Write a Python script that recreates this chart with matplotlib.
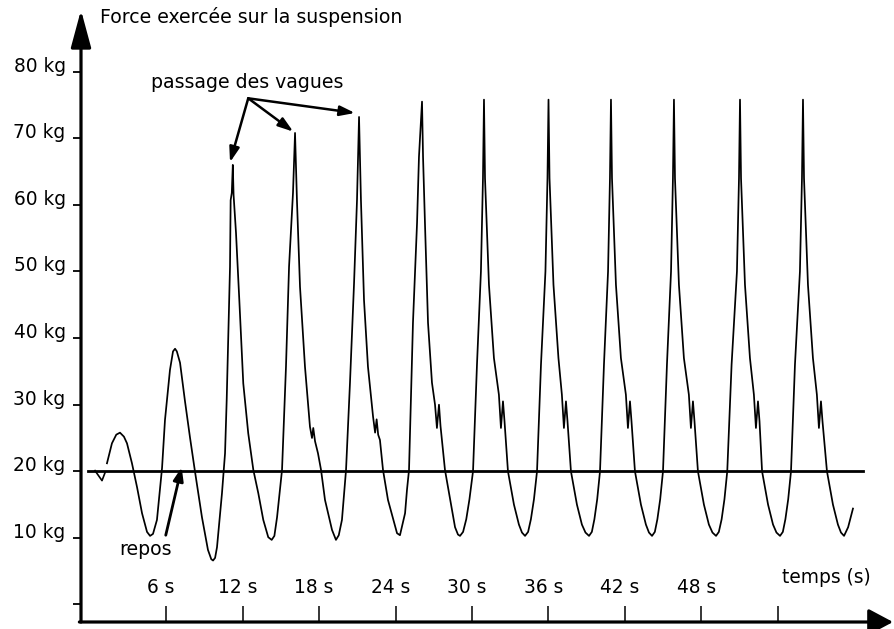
"""Force on the suspension vs time: two swells, then ten waves passing."""
import matplotlib
matplotlib.use("Agg")
import matplotlib.pyplot as plt

plt.rcParams["font.family"] = ["DejaVu Sans"]

# trace, (time s, force kg)
wiggle = [(0.43, 20.1), (0.98, 18.6), (1.22, 19.8)]
swells = [(1.37, 21.2), (1.76, 24.2), (2.10, 25.5), (2.39, 25.8), (2.70, 25.2),
          (2.94, 24.2), (3.33, 21.2), (3.73, 17.6), (4.12, 13.7), (4.51, 10.9),
          (4.75, 10.3), (4.98, 10.6), (5.29, 12.7), (5.69, 20.5), (5.92, 27.7),
          (6.31, 35.2), (6.55, 38.0), (6.71, 38.4), (6.85, 38.0), (7.10, 36.3),
          (7.49, 30.5), (7.88, 25.1), (8.27, 20.0), (8.82, 13.1), (9.29, 8.2),
          (9.55, 6.8), (9.69, 6.6), (9.85, 7.0), (10.00, 8.6)]
wave1 = [(10.39, 16.7), (10.63, 22.7), (10.76, 30.7), (11.02, 50.7), (11.07, 60.7),
         (11.16, 61.8), (11.24, 66.0), (11.30, 61.5), (11.49, 55.8), (11.75, 45.7),
         (12.06, 33.2), (12.45, 25.7), (12.85, 20.2), (13.10, 18.0), (13.24, 16.7),
         (13.63, 12.7), (14.02, 10.1), (14.29, 9.7), (14.50, 10.3)]
wave2 = [(14.71, 13.1), (15.10, 20.2), (15.41, 35.7), (15.65, 50.7), (15.96, 61.8),
         (16.12, 70.8), (16.27, 60.7), (16.51, 47.7), (16.90, 35.7), (17.29, 26.7),
         (17.45, 25.0), (17.55, 26.5), (17.69, 24.5), (17.92, 22.7), (18.16, 20.2),
         (18.47, 15.7), (19.02, 11.2), (19.33, 9.7), (19.55, 10.4)]
wave3 = [(19.80, 12.7), (20.12, 20.2), (20.43, 33.3), (20.75, 48.3), (20.98, 60.7),
         (21.14, 73.2), (21.29, 60.7), (21.53, 45.7), (21.84, 35.7), (22.24, 28.2),
         (22.40, 25.8), (22.52, 27.8), (22.64, 25.5), (22.78, 24.7), (23.02, 20.2),
         (23.41, 15.7), (24.12, 10.7), (24.35, 10.4)]
wave4 = [(24.75, 13.7), (24.90, 17.2), (25.06, 20.2), (25.37, 42.3), (25.69, 57.3),
         (25.84, 67.2), (26.08, 75.5), (26.16, 67.2), (26.31, 57.3), (26.55, 42.3),
         (26.86, 33.3), (27.10, 30.0), (27.25, 26.5), (27.41, 30.0), (27.53, 26.8),
         (27.88, 20.2), (28.43, 14.2), (28.67, 11.6), (28.90, 10.5), (29.06, 10.3)]
wave5 = [(29.30, 10.9), (29.55, 12.8), (29.80, 15.8), (30.08, 20.0), (30.39, 36.0),
         (30.70, 50.0), (30.86, 64.0), (30.94, 75.8), (31.02, 64.0), (31.33, 48.0),
         (31.72, 37.0), (32.11, 31.5), (32.27, 26.5), (32.43, 30.5), (32.55, 27.5),
         (32.82, 20.0), (33.29, 15.0), (33.68, 12.0), (33.92, 10.8), (34.16, 10.3)]
wave6 = [(34.40, 10.9), (34.62, 12.8), (34.86, 15.8), (35.10, 20.0), (35.41, 36.0),
         (35.76, 50.0), (35.92, 64.0), (36.00, 75.8), (36.08, 64.0), (36.39, 48.0),
         (36.78, 37.0), (37.05, 31.5), (37.21, 26.5), (37.37, 30.5), (37.49, 27.5),
         (37.76, 20.0), (38.23, 15.0), (38.62, 12.0), (38.90, 10.8), (39.18, 10.3)]
wave7 = [(39.40, 10.9), (39.60, 12.8), (39.82, 15.8), (40.04, 20.0), (40.35, 36.0),
         (40.67, 50.0), (40.82, 64.0), (40.90, 75.8), (40.98, 64.0), (41.29, 48.0),
         (41.68, 37.0), (42.07, 31.5), (42.23, 26.5), (42.39, 30.5), (42.51, 27.5),
         (42.78, 20.0), (43.25, 15.0), (43.64, 12.0), (43.88, 10.8), (44.12, 10.3)]
wave8 = [(44.34, 10.9), (44.54, 12.8), (44.76, 15.8), (44.98, 20.0), (45.29, 36.0),
         (45.61, 50.0), (45.76, 64.0), (45.84, 75.8), (45.92, 64.0), (46.23, 48.0),
         (46.62, 37.0), (47.01, 31.5), (47.17, 26.5), (47.33, 30.5), (47.45, 27.5),
         (47.72, 20.0), (48.19, 15.0), (48.58, 12.0), (48.86, 10.8), (49.14, 10.3)]
wave9 = [(49.36, 10.9), (49.58, 12.8), (49.80, 15.8), (50.02, 20.0), (50.36, 36.0),
         (50.78, 50.0), (50.94, 64.0), (51.02, 75.8), (51.10, 64.0), (51.41, 48.0),
         (51.80, 37.0), (52.11, 31.5), (52.27, 26.5), (52.43, 30.5), (52.55, 27.5),
         (52.75, 20.0), (53.22, 15.0), (53.61, 12.0), (53.88, 10.8), (54.16, 10.3)]
wave10 = [(54.38, 10.9), (54.58, 12.8), (54.80, 15.8), (55.02, 20.0), (55.33, 36.0),
          (55.72, 50.0), (55.88, 64.0), (55.96, 75.8), (56.04, 64.0), (56.35, 48.0),
          (56.74, 37.0), (57.05, 31.5), (57.21, 26.5), (57.37, 30.5), (57.49, 27.5),
          (57.84, 20.0), (58.31, 15.0), (58.70, 12.0), (58.94, 10.8), (59.18, 10.3),
          (59.50, 11.6), (59.88, 14.4)]

REST_KG = 20
rest_span_s = (-0.15, 60.7)

kg_ticks = [0, 10, 20, 30, 40, 50, 60, 70, 80]
kg_labels = ["", "10 kg", "20 kg", "30 kg", "40 kg", "50 kg", "60 kg", "70 kg", "80 kg"]
sec_ticks = [6, 12, 18, 24, 30, 36, 42, 48, 54]
sec_labels = ["6 s", "12 s", "18 s", "24 s", "30 s", "36 s", "42 s", "48 s"]

# annotation anchors (time s, force kg)
waves_from = (12.45, 76.0)
waves_to = [(11.02, 66.4), (15.98, 71.0), (20.82, 73.8)]
rest_from = (5.98, 10.4)
rest_to = (7.23, 20.6)

FS = 13.6


def main() -> None:
    fig = plt.figure(figsize=(8.95, 6.29), dpi=100)
    ax = fig.add_axes([81 / 895, 7 / 629, 812 / 895, 612 / 629])
    ax.set_xlim(-0.667, 63.02)
    ax.set_ylim(-2.63, 89.26)
    for sp in ax.spines.values():
        sp.set_visible(False)

    trace = swells + wave1 + wave2 + wave3 + wave4 + wave5 + wave6 + wave7 + wave8 + wave9 + wave10
    ax.plot([p[0] for p in wiggle], [p[1] for p in wiggle], color="black", lw=1.2)
    ax.plot([p[0] for p in trace], [p[1] for p in trace], color="black", lw=1.25,
            solid_joinstyle="round")
    ax.plot(rest_span_s, [REST_KG, REST_KG], color="black", lw=2.0)

    # axes drawn as arrows
    ax.annotate("", xy=(0, 1), xytext=(0, 0), xycoords="axes fraction",
                arrowprops=dict(arrowstyle="-|>,head_length=2.3,head_width=0.62",
                                color="black", lw=2.3, shrinkA=0, shrinkB=0,
                                mutation_scale=10), annotation_clip=False)
    ax.annotate("", xy=(1, 0), xytext=(-0.002, 0), xycoords="axes fraction",
                arrowprops=dict(arrowstyle="-|>,head_length=1.5,head_width=0.8",
                                color="black", lw=2.3, shrinkA=0, shrinkB=0,
                                mutation_scale=10), annotation_clip=False)

    ax.set_yticks(kg_ticks, kg_labels)
    ax.tick_params(axis="y", direction="out", length=5.5, width=1.3, pad=5.5,
                   labelsize=FS - 0.2)
    for lab in ax.get_yticklabels():
        lab.set_verticalalignment("baseline")
    ax.set_xticks(sec_ticks)
    ax.tick_params(axis="x", direction="in", length=11.5, width=1.1,
                   labelbottom=False)

    for t, lab in zip(sec_ticks, sec_labels):
        ax.annotate(lab, xy=(t, 0), xycoords=("data", "axes fraction"),
                    xytext=(-5, 29), textcoords="offset pixels",
                    ha="center", va="baseline", fontsize=FS - 0.2)

    fig.text(100 / 895, 1 - 23 / 629, "Force exercée sur la suspension",
             ha="left", va="baseline", fontsize=FS)
    fig.text(826 / 895, 1 - 583 / 629, "temps (s)", ha="center", va="baseline",
             fontsize=FS - 0.2)

    ax.text(12.39, 77.55, "passage des vagues", ha="center", va="baseline", fontsize=FS)
    for tip in waves_to:
        ax.annotate("", xy=tip, xytext=waves_from,
                    arrowprops=dict(arrowstyle="-|>,head_length=0.9,head_width=0.3",
                                    color="black", lw=1.8, shrinkA=0, shrinkB=0,
                                    mutation_scale=10))
    ax.text(4.43, 7.43, "repos", ha="center", va="baseline", fontsize=FS)
    ax.annotate("", xy=rest_to, xytext=rest_from,
                arrowprops=dict(arrowstyle="-|>,head_length=0.8,head_width=0.3",
                                color="black", lw=2.0, shrinkA=0, shrinkB=0,
                                mutation_scale=10))

    fig.savefig("out.png", dpi=100, facecolor="white")


if __name__ == "__main__":
    main()
